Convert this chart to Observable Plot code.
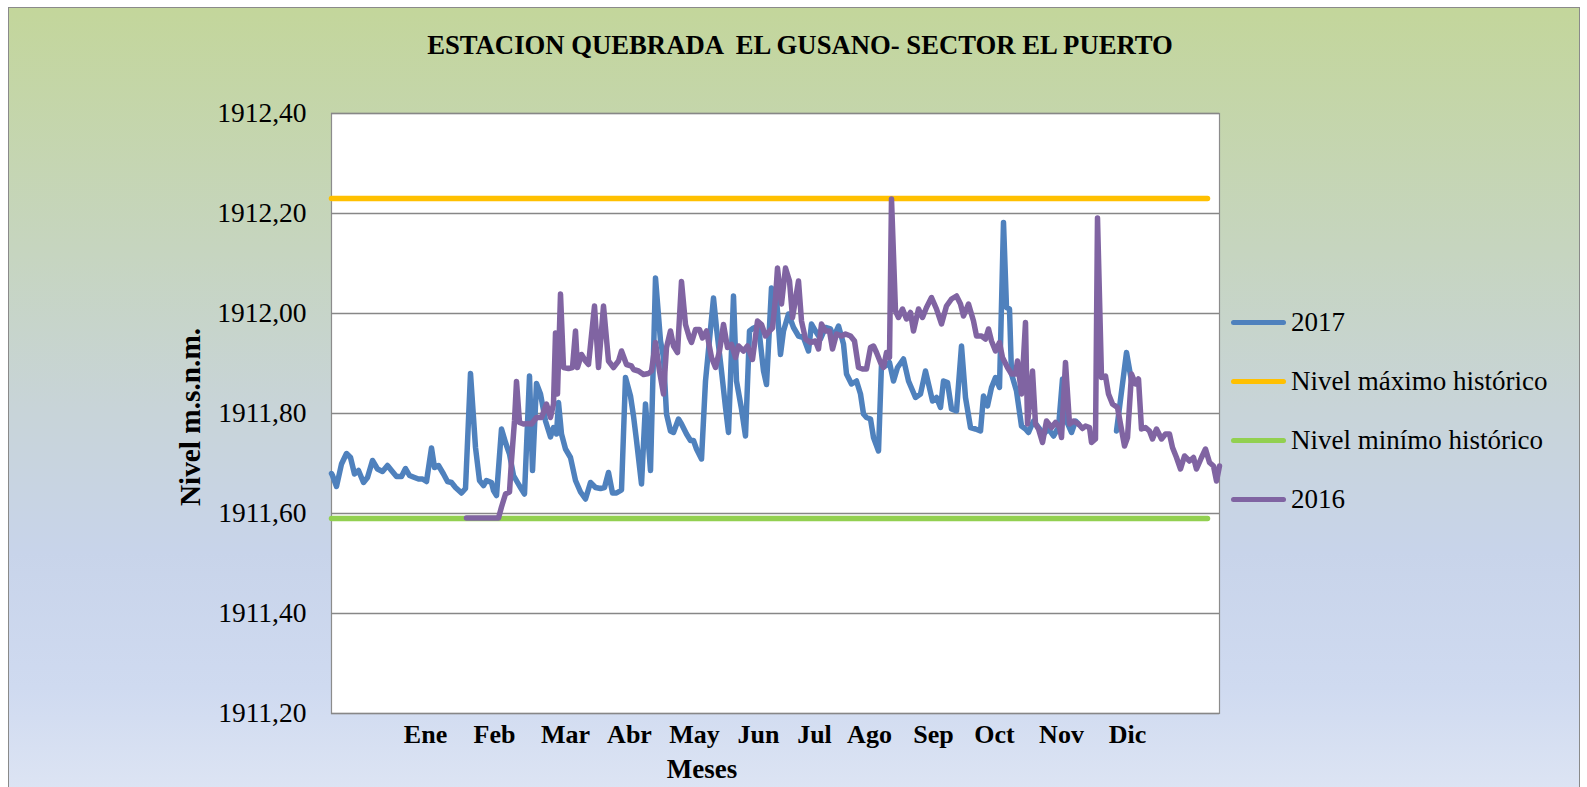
<!DOCTYPE html>
<html>
<head>
<meta charset="utf-8">
<script src="https://cdn.jsdelivr.net/npm/d3@7"></script>
<script src="https://cdn.jsdelivr.net/npm/@observablehq/plot@0.6"></script>
<style>
  html, body { margin: 0; padding: 0; background: #ffffff; }
  body { width: 1587px; height: 787px; overflow: hidden; position: relative; font-family: "Liberation Serif", serif; }
  #frame {
    position: absolute; left: 8px; top: 7px; width: 1570px; height: 800px;
    border: 1px solid #8a8a8a;
    background: linear-gradient(to bottom, #c3d69b 0%, #c6d5bf 30%, #c8d4d8 50%, #c8d4ea 68%, #cfdaf0 85%, #dfe6f4 100%);
  }
  #chart { position: absolute; left: 0; top: 0; }
  #chart svg text { font-family: "Liberation Serif", serif; }
  .title { position: absolute; left: 0; width: 1600px; top: 30px; text-align: center; font-weight: bold; font-size: 26.7px; white-space: pre; color: #000; }
  .xlabel { position: absolute; left: 602px; width: 200px; top: 754px; text-align: center; font-weight: bold; font-size: 27px; }
  .ylabel { position: absolute; left: 190px; top: 417px; transform: translate(-50%, -50%) rotate(-90deg); font-weight: bold; font-size: 29.3px; white-space: nowrap; }
  .legend { position: absolute; left: 1231px; top: 0; }
  .legend .item { position: absolute; left: 0; white-space: nowrap; font-size: 27px; line-height: 30px; height: 30px; }
  .legend .sw { position: absolute; left: 0; top: 13px; width: 55px; height: 5px; border-radius: 3px; }
  .legend .tx { position: absolute; left: 60px; top: 0; }
</style>
</head>
<body>
<div id="frame"></div>
<div id="chart"></div>
<div class="title">ESTACION QUEBRADA  EL GUSANO- SECTOR EL PUERTO</div>
<div class="xlabel">Meses</div>
<div class="ylabel">Nivel m.s.n.m.</div>
<div class="legend" id="legend"></div>
<script>
// ---- Data ----
const months = ["Ene","Feb","Mar","Abr","May","Jun","Jul","Ago","Sep","Oct","Nov","Dic"];
const monthPos = [47, 81.5, 117, 149, 181.5, 213.5, 241.5, 269, 301, 331.5, 365, 398];
const yTicks = [1911.2, 1911.4, 1911.6, 1911.8, 1912.0, 1912.2, 1912.4];

const maxHist = 1912.23;
const minHist = 1911.59;
const refDays = [0, 438];

const day2017 = [0,0.5,2.5,5,7.5,9.5,11.5,13.5,16,18,20.5,23,25.5,28,30,32.5,35,37,39,41.5,43.5,45.5,47.5,50,51.5,53.5,56,58,60,62,65,67,69.5,72,74,76,77.5,80,81,82.5,85,87,89,91,93,94.5,96.5,99,100.5,102.5,104.5,107,109.5,111,112.5,113.5,115,117,119.5,122,124.5,127,129.5,132,134.5,136.5,138.5,140.5,142.5,145,147,149.5,151,152.5,155,157,159.5,162,164.5,166,167.5,169.5,171,173.5,175,177.5,179.5,181,182.5,185,187,191,192.5,195,197,198.5,201,202.5,205,207,209,211,213.5,216,217.5,220,222.5,224.5,226,228.5,231,233.5,236,238.5,240,242,244.5,247,249.5,251,253.5,256,257.5,260,262.5,264.5,266,267.5,269.5,271,273.5,275,277,279,281,283,286,288.5,292,294.5,297,300.5,302.5,304.5,306,308,310,312.5,315,317,319.5,322,324.5,326,328,330,332,334,336,337.5,339,340,342.5,345,347,348.5,351,353.5,356,358.5,361,363.5,365.5,367.5,370,372,373.5,383,392.5,397.5,400];
const level2017 = [1911.68,1911.676,1911.654,1911.699,1911.720,1911.712,1911.679,1911.686,1911.662,1911.672,1911.706,1911.689,1911.684,1911.696,1911.686,1911.674,1911.674,1911.690,1911.676,1911.672,1911.669,1911.669,1911.664,1911.731,1911.692,1911.696,1911.679,1911.664,1911.662,1911.652,1911.641,1911.650,1911.880,1911.732,1911.666,1911.656,1911.666,1911.662,1911.646,1911.636,1911.769,1911.742,1911.719,1911.676,1911.662,1911.652,1911.639,1911.875,1911.686,1911.860,1911.839,1911.785,1911.753,1911.772,1911.759,1911.822,1911.759,1911.729,1911.712,1911.666,1911.643,1911.629,1911.662,1911.652,1911.650,1911.652,1911.682,1911.641,1911.641,1911.647,1911.872,1911.835,1911.795,1911.746,1911.659,1911.819,1911.686,1912.071,1911.945,1911.912,1911.799,1911.765,1911.762,1911.789,1911.779,1911.759,1911.746,1911.746,1911.729,1911.709,1911.865,1912.031,1911.971,1911.885,1911.812,1911.762,1912.035,1911.865,1911.809,1911.755,1911.965,1911.971,1911.975,1911.885,1911.858,1912.051,1912.031,1911.918,1911.965,1911.999,1911.972,1911.955,1911.952,1911.925,1911.979,1911.965,1911.949,1911.972,1911.969,1911.952,1911.975,1911.939,1911.879,1911.859,1911.865,1911.839,1911.799,1911.792,1911.789,1911.752,1911.725,1911.899,1911.895,1911.902,1911.865,1911.892,1911.909,1911.865,1911.832,1911.839,1911.885,1911.825,1911.832,1911.812,1911.865,1911.862,1911.809,1911.805,1911.935,1911.832,1911.772,1911.769,1911.765,1911.835,1911.815,1911.852,1911.872,1911.852,1912.182,1912.012,1912.009,1911.879,1911.845,1911.775,1911.769,1911.762,1911.785,1911.772,1911.759,1911.769,1911.755,1911.772,1911.869,1911.785,1911.762,1911.785,1911.779,null,1911.765,1911.922,1911.865];

const day2016 = [67.5,83.5,85,87,89,90,91.5,92.5,94,96,98.5,100,102.5,105,107.5,109.5,111,112,113,114.5,116,118.5,120.5,122,123,125,127,128.5,131.5,133.5,136,138.5,141,143.5,145,147.5,150,151,153.5,156,158.5,160,162,164,166,167.5,169.5,171,173,175,177,179,180,182,184,185.5,187.5,190,192,194,196,198,200,202,203.5,206,208,210.5,213,215,217,219,220.5,222,223,225,227,229,230.5,233.5,235,237,239.5,242,243.5,245,247,249,250.5,252.5,255,257,259.5,261.5,263.5,265.5,267.5,269.5,271,272.5,274.5,276,277.5,279,280,282,283.5,285.5,287.5,289.5,291,293.5,295.5,297.5,300,302.5,305,307.5,310,312.5,314.5,316,318.5,321,322.5,325,327,328.5,330,332,334,335.5,338,340,342,343,345,347,348,349.5,350.5,352,353.5,355.5,357.5,360,362,364,365,367,369,371,373.5,375.5,377,379,380,382,383,385,387,388.5,390.5,393,394.5,396.5,398,400,402,403.5,405,407,409,410.5,412.5,415,417,419,420.5,422.5,424.5,426.5,429,431,432.5,435,437,439,441,442.5,444];
const level2016 = [1911.591,1911.591,1911.613,1911.639,1911.643,1911.706,1911.785,1911.864,1911.782,1911.779,1911.780,1911.779,1911.792,1911.792,1911.819,1911.792,1911.819,1911.961,1911.839,1912.039,1911.892,1911.890,1911.892,1911.965,1911.892,1911.918,1911.905,1911.898,1912.015,1911.892,1912.015,1911.905,1911.892,1911.905,1911.925,1911.898,1911.895,1911.888,1911.885,1911.878,1911.880,1911.885,1911.942,1911.885,1911.839,1911.932,1911.965,1911.935,1911.922,1912.064,1911.978,1911.951,1911.942,1911.968,1911.968,1911.951,1911.965,1911.912,1911.892,1911.925,1911.978,1911.932,1911.938,1911.912,1911.935,1911.925,1911.935,1911.908,1911.985,1911.978,1911.955,1911.965,1911.971,1912.031,1912.091,1912.019,1912.091,1912.065,1911.992,1912.065,1911.985,1911.949,1911.942,1911.945,1911.929,1911.979,1911.965,1911.965,1911.929,1911.959,1911.955,1911.959,1911.955,1911.945,1911.892,1911.889,1911.889,1911.932,1911.935,1911.922,1911.902,1911.892,1911.922,1911.912,1912.229,1912.005,1911.992,1912.009,1911.989,1912.002,1911.965,1912.009,1911.992,1912.012,1912.032,1912.009,1911.979,1912.015,1912.029,1912.035,1912.019,1911.995,1912.019,1911.985,1911.955,1911.955,1911.949,1911.969,1911.945,1911.925,1911.942,1911.912,1911.892,1911.879,1911.879,1911.905,1911.839,1911.982,1911.779,1911.839,1911.885,1911.779,1911.769,1911.742,1911.785,1911.772,1911.782,1911.772,1911.752,1911.902,1911.779,1911.785,1911.779,1911.770,1911.775,1911.772,1911.742,1911.749,1912.191,1911.872,1911.875,1911.839,1911.819,1911.812,1911.779,1911.735,1911.752,1911.879,1911.859,1911.869,1911.769,1911.772,1911.765,1911.749,1911.769,1911.749,1911.759,1911.759,1911.732,1911.712,1911.689,1911.715,1911.705,1911.712,1911.689,1911.712,1911.729,1911.702,1911.695,1911.665,1911.695];

const seriesNames = ["2017", "Nivel máximo histórico", "Nivel minímo histórico", "2016"];
const seriesColors = ["#4f81bd", "#ffc000", "#92d050", "#8064a2"];

// ---- Tables built from the arrays ----
const t2017 = day2017.map((d, i) => ({day: d, level: level2017[i]}));
const t2016 = day2016.map((d, i) => ({day: d, level: level2016[i]}));
const tMax = refDays.map(d => ({day: d, level: maxHist}));
const tMin = refDays.map(d => ({day: d, level: minHist}));
const monthName = new Map(monthPos.map((p, i) => [p, months[i]]));

const lineOpts = {x: "day", y: "level", strokeWidth: 5.5, strokeLinejoin: "round", strokeLinecap: "round"};

const chart = Plot.plot({
  width: 1587,
  height: 787,
  marginLeft: 331,
  marginRight: 368,
  marginTop: 113,
  marginBottom: 74,
  x: {domain: [0, 444]},
  y: {domain: [1911.2, 1912.4]},
  style: {background: "transparent", fontFamily: "'Liberation Serif', serif", color: "#000", overflow: "visible"},
  marks: [
    Plot.frame({fill: "white", stroke: "#8c8c8c", strokeWidth: 1.2}),
    Plot.gridY(yTicks, {stroke: "#878787", strokeOpacity: 1, strokeWidth: 1.6}),
    Plot.axisY({ticks: yTicks, tickFormat: v => v.toFixed(2).replace(".", ","), tickSize: 0, tickPadding: 25, fontSize: 27.5, label: null}),
    Plot.axisX({ticks: monthPos, tickFormat: d => monthName.get(d), tickSize: 0, tickPadding: 11, fontSize: 26, fontWeight: "bold", label: null}),
    Plot.line(t2017, {...lineOpts, stroke: seriesColors[0]}),
    Plot.line(tMax, {...lineOpts, stroke: seriesColors[1]}),
    Plot.line(tMin, {...lineOpts, stroke: seriesColors[2]}),
    Plot.line(t2016, {...lineOpts, stroke: seriesColors[3]})
  ]
});
document.getElementById("chart").appendChild(chart);

// ---- Legend ----
const legendTops = [307, 366, 425, 484];
const legend = document.getElementById("legend");
seriesNames.forEach((name, i) => {
  const item = document.createElement("div");
  item.className = "item";
  item.style.top = legendTops[i] + "px";
  const sw = document.createElement("span");
  sw.className = "sw";
  sw.style.background = seriesColors[i];
  const tx = document.createElement("span");
  tx.className = "tx";
  tx.textContent = name;
  item.appendChild(sw);
  item.appendChild(tx);
  legend.appendChild(item);
});
</script>
</body>
</html>
